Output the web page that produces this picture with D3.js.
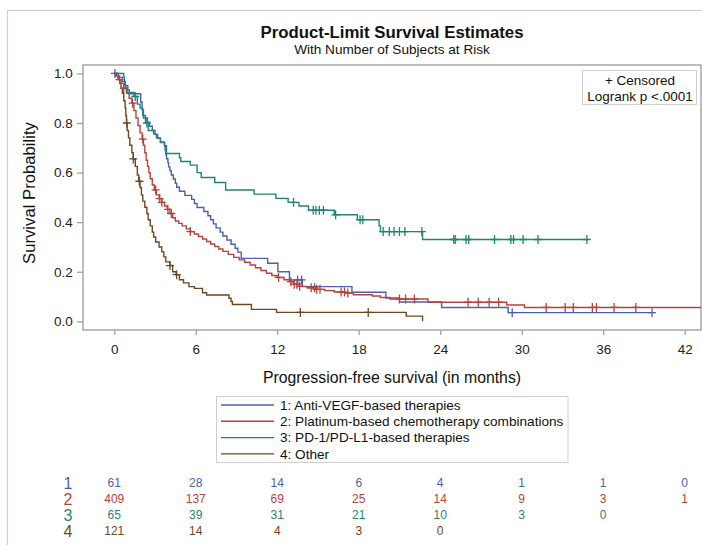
<!DOCTYPE html>
<html><head><meta charset="utf-8">
<script src="https://cdn.jsdelivr.net/npm/d3@7"></script>
<style>body{margin:0;background:#fff}svg{display:block}text{font-family:"Liberation Sans",Arial,sans-serif}</style>
</head><body>
<svg id="chart" width="702" height="545"></svg>
<script>
// ---- data ----
const groupNames = ["1: Anti-VEGF-based therapies","2: Platinum-based chemotherapy combinations","3: PD-1/PD-L1-based therapies","4: Other"];
const groupIds = ["1","2","3","4"];
const groupColors = ["#4d5fb3","#b8433a","#1f8573","#6e4722"];
const xTicks = [0,6,12,18,24,30,36,42];
const yTicks = [0.0,0.2,0.4,0.6,0.8,1.0];
// [time, survival after step]
const steps1 = [[0.3,0.984],[0.6,0.967],[0.8,0.951],[1.0,0.934],[1.1,0.918],[1.95,0.885],[2.05,0.852],[2.15,0.82],[2.45,0.803],[2.6,0.787],[2.8,0.77],[3.0,0.754],[3.2,0.738],[3.4,0.721],[3.7,0.705],[3.75,0.689],[3.8,0.672],[3.85,0.656],[3.95,0.64],[4.0,0.623],[4.1,0.607],[4.2,0.59],[4.35,0.574],[4.5,0.557],[4.6,0.541],[4.8,0.525],[5.2,0.508],[5.7,0.492],[5.9,0.475],[6.1,0.459],[6.6,0.443],[6.9,0.426],[7.1,0.41],[7.3,0.393],[7.5,0.377],[7.8,0.36],[8.0,0.344],[8.3,0.328],[8.6,0.311],[8.9,0.295],[9.1,0.279],[9.35,0.254],[11.3,0.234],[12.05,0.2],[12.9,0.167],[13.85,0.14],[17.5,0.117],[20.0,0.094],[21.0,0.078],[24.1,0.056],[29.0,0.035]];
const censor1 = [0.05,13.5,13.8,29.3,39.6];
const end1 = 39.6;
const steps2 = [[0.1,0.99],[0.3,0.975],[0.5,0.96],[0.7,0.94],[0.9,0.92],[1.1,0.9],[1.3,0.88],[1.45,0.85],[1.6,0.82],[1.75,0.79],[1.9,0.76],[2.05,0.735],[2.15,0.71],[2.25,0.68],[2.35,0.65],[2.45,0.625],[2.55,0.6],[2.65,0.575],[2.8,0.55],[2.95,0.53],[3.1,0.51],[3.3,0.495],[3.5,0.48],[3.7,0.465],[3.9,0.452],[4.1,0.435],[4.3,0.418],[4.5,0.405],[4.75,0.395],[5.0,0.385],[5.3,0.373],[5.6,0.362],[5.9,0.352],[6.2,0.342],[6.5,0.332],[6.8,0.322],[7.1,0.312],[7.4,0.302],[7.7,0.292],[8.0,0.282],[8.4,0.27],[8.8,0.258],[9.2,0.248],[9.6,0.238],[10.0,0.227],[10.4,0.216],[10.8,0.205],[11.2,0.194],[11.6,0.185],[12.0,0.177],[12.5,0.168],[12.9,0.16],[13.2,0.15],[13.6,0.141],[14.2,0.135],[14.8,0.129],[15.5,0.124],[16.2,0.118],[17.0,0.114],[17.6,0.107],[19.0,0.102],[19.6,0.096],[20.3,0.09],[23.1,0.077],[28.9,0.066],[30.2,0.056]];
const censor2 = [0.4,0.7,1.35,2.1,3.05,3.35,3.5,3.95,4.2,5.6,12.1,13.0,13.25,13.45,13.65,14.5,14.75,14.9,15.15,16.7,16.95,17.2,21.0,21.45,22.1,26.05,26.8,27.6,28.3,31.8,33.2,33.8,35.2,35.5,36.8,38.4];
const end2 = 44;
const steps3 = [[0.7,0.985],[0.75,0.969],[0.8,0.954],[0.85,0.938],[0.95,0.923],[1.45,0.907],[1.7,0.876],[1.9,0.86],[2.1,0.83],[2.3,0.8],[2.5,0.77],[2.9,0.755],[3.1,0.74],[3.4,0.724],[3.7,0.708],[3.85,0.677],[4.8,0.66],[4.9,0.645],[5.6,0.63],[6.1,0.6],[6.4,0.58],[7.4,0.56],[8.2,0.53],[10.3,0.513],[11.9,0.496],[12.8,0.48],[13.6,0.465],[14.3,0.448],[16.2,0.43],[17.9,0.41],[19.5,0.385],[19.6,0.362],[22.7,0.33]];
const censor3 = [1.55,2.4,13.2,14.65,14.85,15.1,15.4,16.3,18.1,18.3,19.8,20.25,20.6,21.0,21.4,22.65,25.0,25.1,25.9,26.1,28.0,29.2,29.4,30.1,31.2,34.8];
const end3 = 34.8;
const steps4 = [[0.15,0.99],[0.3,0.975],[0.4,0.96],[0.5,0.94],[0.6,0.92],[0.7,0.89],[0.8,0.86],[0.85,0.83],[0.9,0.8],[0.95,0.77],[1.05,0.74],[1.15,0.71],[1.3,0.68],[1.4,0.655],[1.55,0.625],[1.7,0.59],[1.8,0.565],[1.9,0.54],[2.0,0.51],[2.1,0.485],[2.25,0.46],[2.4,0.435],[2.5,0.41],[2.65,0.385],[2.8,0.36],[2.9,0.34],[3.05,0.32],[3.3,0.3],[3.5,0.28],[3.65,0.26],[3.8,0.24],[4.1,0.225],[4.3,0.2],[4.55,0.188],[4.8,0.168],[5.1,0.155],[5.5,0.14],[5.9,0.133],[6.5,0.115],[6.8,0.106],[8.45,0.093],[8.6,0.08],[8.7,0.068],[10.1,0.048],[11.95,0.036],[21.5,0.021],[22.7,0.0]];
const censor4 = [0.92,1.4,1.85,4.1,4.6,13.7,18.7];
const end4 = 22.7;
const atRisk1 = [61,28,14,6,4,1,1,0];
const atRisk2 = [409,137,69,25,14,9,3,1];
const atRisk3 = [65,39,31,21,10,3,0];
const atRisk4 = [121,14,4,3,0];

const series = [
  {steps:steps1, censor:censor1, end:end1, risk:atRisk1},
  {steps:steps2, censor:censor2, end:end2, risk:atRisk2},
  {steps:steps3, censor:censor3, end:end3, risk:atRisk3},
  {steps:steps4, censor:censor4, end:end4, risk:atRisk4}
];

// ---- layout ----
const svg = d3.select("#chart");
const L = 83, R = 701, T = 65, B = 330;
const x = d3.scaleLinear().domain([-2.3, 43.2]).range([L, R]);
const y = d3.scaleLinear().domain([-0.035, 1.034]).range([B, T]);
const font = '"Liberation Sans",Arial,sans-serif';

// outer border
svg.append("rect").attr("x",7.5).attr("y",10.5).attr("width",760).attr("height",600)
  .attr("fill","none").attr("stroke","#cfcfcf").attr("stroke-width",1.2);

// titles
svg.append("text").attr("x",392).attr("y",38).attr("text-anchor","middle")
  .attr("font-size",16.8).attr("font-weight","bold").attr("fill","#111").text("Product-Limit Survival Estimates");
svg.append("text").attr("x",392).attr("y",54).attr("text-anchor","middle")
  .attr("font-size",13.6).attr("fill","#111").text("With Number of Subjects at Risk");

// clip
svg.append("clipPath").attr("id","plotclip").append("rect")
  .attr("x",L).attr("y",T).attr("width",R-L).attr("height",B-T);

// axes
const xAxis = d3.axisBottom(x).tickValues(xTicks).tickSize(5).tickSizeOuter(0).tickFormat(d3.format("d"));
const gx = svg.append("g").attr("transform",`translate(0,${B})`).call(xAxis);
const yAxis = d3.axisLeft(y).tickValues(yTicks).tickSize(6).tickSizeOuter(0).tickFormat(d3.format(".1f"));
const gy = svg.append("g").attr("transform",`translate(${L},0)`).call(yAxis);
[gx,gy].forEach(g=>{
  g.select(".domain").remove();
  g.selectAll(".tick line").attr("stroke","#9a9a9a").attr("stroke-width",1.2);
  g.selectAll(".tick text").attr("font-family",font).attr("font-size",13.5).attr("fill","#222");
});
gx.selectAll(".tick text").attr("dy","1.2em");
gy.selectAll(".tick text").attr("dx","-0.1em");

// plot frame
svg.append("rect").attr("x",L).attr("y",T).attr("width",R-L).attr("height",B-T)
  .attr("fill","none").attr("stroke","#a8a8a8").attr("stroke-width",1.5);

// axis labels
svg.append("text").attr("x",392).attr("y",383).attr("text-anchor","middle")
  .attr("font-size",15.8).attr("fill","#111").text("Progression-free survival (in months)");
svg.append("text").attr("transform","translate(35,193) rotate(-90)").attr("text-anchor","middle")
  .attr("font-size",16.7).attr("fill","#111").text("Survival Probability");

// curves
function survAt(steps, t){
  let s = 1;
  for (const [st,sv] of steps){ if (st <= t) s = sv; else break; }
  return s;
}
function stepPath(steps, end){
  let d = `M${x(0)},${y(1)}`;
  for (const [t,s] of steps){
    d += `H${x(t)}V${y(s)}`;
  }
  d += `H${x(end)}`;
  return d;
}
const plot = svg.append("g").attr("clip-path","url(#plotclip)");
[3,0,1,2].forEach(i=>{
  const sr = series[i];
  plot.append("path").attr("d",stepPath(sr.steps, sr.end))
    .attr("fill","none").attr("stroke",groupColors[i]).attr("stroke-width",1.4);
  plot.selectAll(null).data(sr.censor).enter().append("path")
    .attr("transform",t=>`translate(${x(t)},${y(survAt(sr.steps,t))})`)
    .attr("d","M-4,0H4M0,-4.5V4.5").attr("stroke",groupColors[i]).attr("stroke-width",1.3).attr("fill","none");
});

// censor / logrank box
svg.append("rect").attr("x",582.5).attr("y",70.5).attr("width",114).attr("height",34)
  .attr("fill","#fff").attr("stroke","#cfcfcf").attr("stroke-width",1);
svg.append("text").attr("x",640).attr("y",85).attr("text-anchor","middle").attr("font-size",13.5).attr("fill","#111").text("+ Censored");
svg.append("text").attr("x",640).attr("y",101).attr("text-anchor","middle").attr("font-size",13.5).attr("fill","#111").text("Logrank p <.0001");

// legend
const lg = svg.append("g");
lg.append("rect").attr("x",216.5).attr("y",396.5).attr("width",351.5).attr("height",66)
  .attr("fill","none").attr("stroke","#cfcfcf").attr("stroke-width",1);
groupNames.forEach((nm,i)=>{
  const cy = 405 + i*16.3;
  lg.append("line").attr("x1",221).attr("x2",274).attr("y1",cy).attr("y2",cy)
    .attr("stroke",groupColors[i]).attr("stroke-width",1.4);
  lg.append("text").attr("x",280).attr("y",cy+4.8).attr("font-size",13.6).attr("fill","#111").text(nm);
});

// at-risk table
series.forEach((sr,i)=>{
  const cy = 483 + i*16;
  svg.append("text").attr("x",68).attr("y",cy+5.5).attr("text-anchor","middle")
    .attr("font-size",16).attr("fill",groupColors[i]).text(groupIds[i]);
  svg.selectAll(null).data(sr.risk).enter().append("text")
    .attr("x",(d,j)=>x(xTicks[j])).attr("y",cy+4.3).attr("text-anchor","middle")
    .attr("font-size",12).attr("fill",groupColors[i]).text(d=>d);
});
</script>
</body></html>
